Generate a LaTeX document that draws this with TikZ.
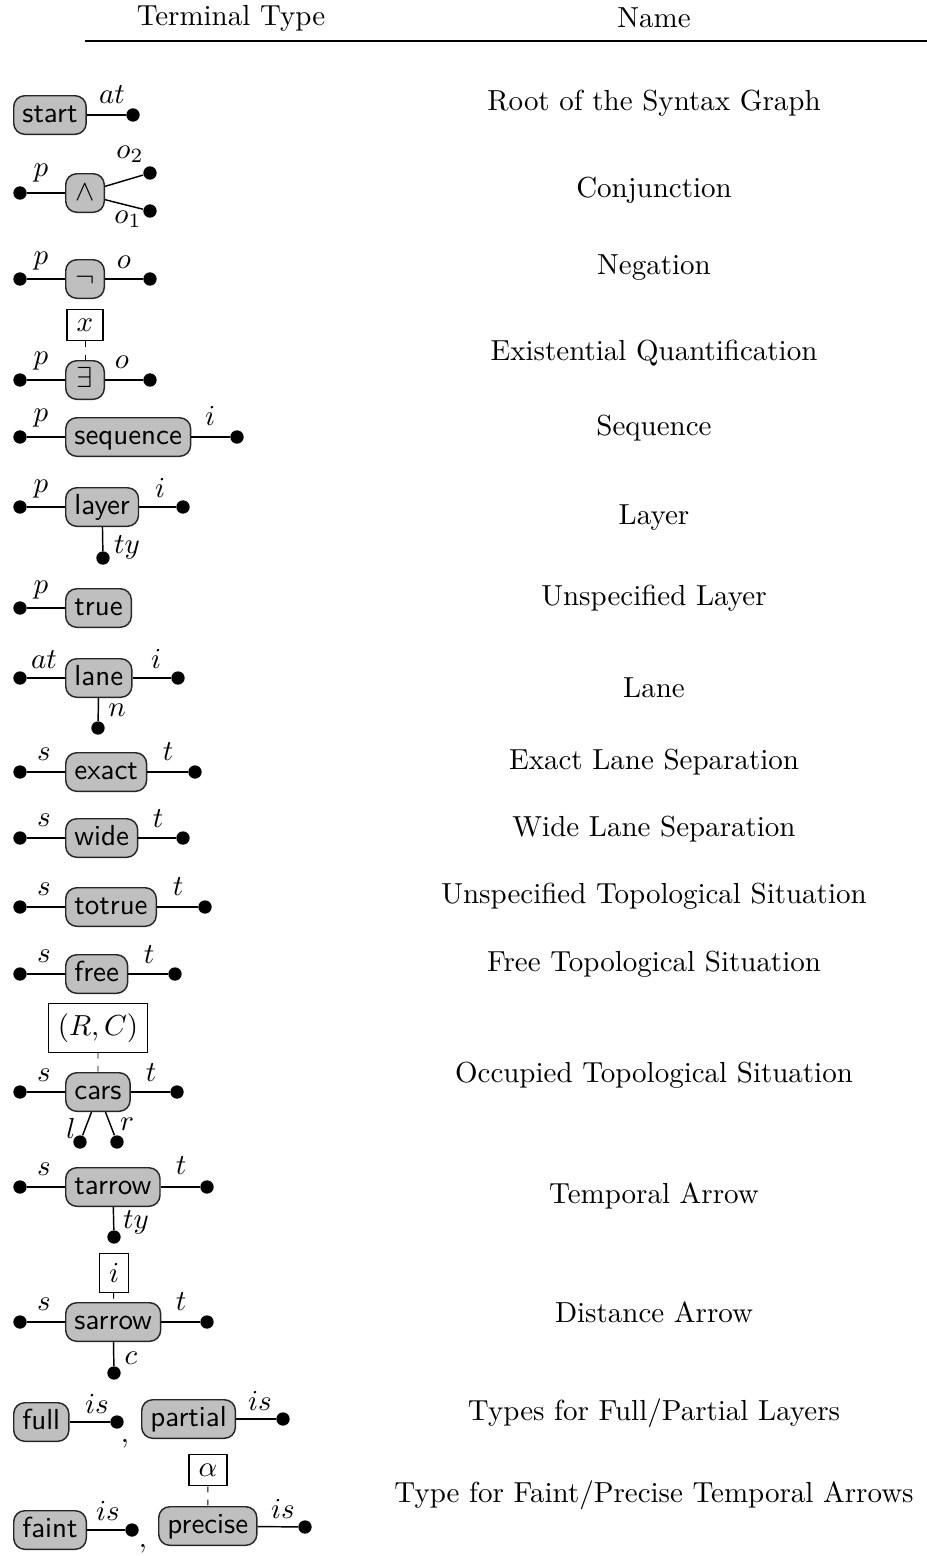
\documentclass[tikz,border=0pt]{standalone}
\usetikzlibrary{calc}
\begin{document}
\begin{tikzpicture}[x=0.345pt,y=-0.345pt,
 term/.style={draw=black!85, fill=black!25, rounded corners=3.8pt, font=\sffamily, minimum height=13.3pt, minimum width=13.3pt, inner xsep=3pt, inner ysep=0pt, text height=7pt, text depth=2pt, line width=0.5pt},
 dot/.style={circle, fill=black, inner sep=0pt, minimum size=4.6pt},
 var/.style={draw, fill=white, inner sep=3.33pt, line width=0.4pt},
 lbl/.style={inner sep=0pt},
 wire/.style={line width=0.5pt},
 link/.style={line width=0.3pt, dash pattern=on 2pt off 2.5pt},
 rowname/.style={inner sep=0pt}
]
\useasboundingbox (0,0) rectangle (927,1556);
% header
\node[rowname] (h1) at (231,18) {Terminal Type};
\node[rowname] (h2) at (654,18) {Name};
\draw[line width=0.5pt] (85,41) -- (927,41);

% row 1 start
\node[term, anchor=west] (start) at (13,115) {start};
\node[dot] (start-r) at (133,115) {};
\draw[wire] (start) -- (start-r);
\node[lbl] (start-l) at (112,95) {$at$};
\node[rowname] (n1) at (654,103) {Root of the Syntax Graph};

% row 2 conjunction
\node[dot] (and-p) at (20,193) {};
\node[term] (and) at (85,193) {$\wedge$};
\node[dot] (and-o2) at (150,173) {};
\node[dot] (and-o1) at (150,211) {};
\draw[wire] (and-p) -- (and);
\draw[wire] ([yshift=2.3pt]and.east) -- (and-o2);
\draw[wire] ([yshift=-2.3pt]and.east) -- (and-o1);
\node[lbl] (and-lp) at (41,173) {$p$};
\node[lbl] (and-lo2) at (130,154) {$o_2$};
\node[lbl] (and-lo1) at (128,219) {$o_1$};
\node[rowname] (n2) at (654,190) {Conjunction};

% row 3 negation
\node[dot] (neg-p) at (20,279) {};
\node[term] (neg) at (85,279) {$\neg$};
\node[dot] (neg-o) at (150,279) {};
\draw[wire] (neg-p) -- (neg) -- (neg-o);
\node[lbl] (neg-lp) at (41,261) {$p$};
\node[lbl] (neg-lo) at (124,262) {$o$};
\node[rowname] (n3) at (654,268) {Negation};

% row 4 exists
\node[var] (ex-x) at (85,325) {$x$};
\node[dot] (ex-p) at (20,380) {};
\node[term] (ex) at (85,380) {$\exists$};
\node[dot] (ex-o) at (150,380) {};
\draw[wire] (ex-p) -- (ex) -- (ex-o);
\draw[link] (ex-x) -- (ex);
\node[lbl] (ex-lp) at (41,361) {$p$};
\node[lbl] (ex-lo) at (122,362) {$o$};
\node[rowname] (n4) at (654,353) {Existential Quantification};

% row 5 sequence
\node[dot] (seq-p) at (20,437) {};
\node[term, anchor=west] (seq) at (65,437) {sequence};
\node[dot] (seq-i) at (237,437) {};
\draw[wire] (seq-p) -- (seq) -- (seq-i);
\node[lbl] (seq-lp) at (41,418) {$p$};
\node[lbl] (seq-li) at (210,416) {$i$};
\node[rowname] (n5) at (654,428) {Sequence};

% row 6 layer
\node[dot] (lay-p) at (20,507) {};
\node[term, anchor=west] (lay) at (65,507) {layer};
\node[dot] (lay-i) at (183,507) {};
\node[dot] (lay-t) at (103,558) {};
\draw[wire] (lay-p) -- (lay) -- (lay-i);
\draw[wire] (lay) -- (lay-t);
\node[lbl] (lay-lp) at (41,489) {$p$};
\node[lbl] (lay-li) at (160,488) {$i$};
\node[lbl] (lay-lt) at (127,547) {$ty$};
\node[rowname] (n6) at (654,518) {Layer};

% row 7 true
\node[dot] (tr-p) at (20,608) {};
\node[term, anchor=west] (tr) at (65,608) {true};
\draw[wire] (tr-p) -- (tr);
\node[lbl] (tr-lp) at (41,590) {$p$};
\node[rowname] (n7) at (654,598) {Unspecified Layer};

% row 8 lane
\node[dot] (lane-a) at (20,678) {};
\node[term, anchor=west] (lane) at (65,678) {lane};
\node[dot] (lane-i) at (178,678) {};
\node[dot] (lane-n) at (98,728) {};
\draw[wire] (lane-a) -- (lane) -- (lane-i);
\draw[wire] (lane) -- (lane-n);
\node[lbl] (lane-la) at (44,660) {$at$};
\node[lbl] (lane-li) at (156,659) {$i$};
\node[lbl] (lane-ln) at (117,710) {$n$};
\node[rowname] (n8) at (654,688) {Lane};

% row 9 exact
\node[dot] (exa-s) at (20,772) {};
\node[term, anchor=west] (exa) at (65,772) {exact};
\node[dot] (exa-t) at (195,772) {};
\draw[wire] (exa-s) -- (exa) -- (exa-t);
\node[lbl] (exa-ls) at (44,754) {$s$};
\node[lbl] (exa-lt) at (168,752) {$t$};
\node[rowname] (n9) at (654,762) {Exact Lane Separation};

% row 10 wide
\node[dot] (wid-s) at (20,838) {};
\node[term, anchor=west] (wid) at (65,838) {wide};
\node[dot] (wid-t) at (183,838) {};
\draw[wire] (wid-s) -- (wid) -- (wid-t);
\node[lbl] (wid-ls) at (44,820) {$s$};
\node[lbl] (wid-lt) at (158,819) {$t$};
\node[rowname] (n10) at (654,829) {Wide Lane Separation};

% row 11 totrue
\node[dot] (tot-s) at (20,907) {};
\node[term, anchor=west] (tot) at (65,907) {totrue};
\node[dot] (tot-t) at (205,907) {};
\draw[wire] (tot-s) -- (tot) -- (tot-t);
\node[lbl] (tot-ls) at (44,889) {$s$};
\node[lbl] (tot-lt) at (178,887) {$t$};
\node[rowname] (n11) at (654,896) {Unspecified Topological Situation};

% row 12 free
\node[dot] (fre-s) at (20,974) {};
\node[term, anchor=west] (fre) at (65,974) {free};
\node[dot] (fre-t) at (175,974) {};
\draw[wire] (fre-s) -- (fre) -- (fre-t);
\node[lbl] (fre-ls) at (44,956) {$s$};
\node[lbl] (fre-lt) at (149,955) {$t$};
\node[rowname] (n12) at (654,964) {Free Topological Situation};

% row 13 cars
\node[var] (car-v) at (98,1028) {$(R,C)$};
\node[dot] (car-s) at (20,1092) {};
\node[term, anchor=west] (car) at (65,1092) {cars};
\node[dot] (car-t) at (177,1092) {};
\node[dot] (car-l) at (80,1142) {};
\node[dot] (car-r) at (117,1142) {};
\draw[wire] (car-s) -- (car) -- (car-t);
\draw[link] (car-v) -- (car);
\draw[wire] ([xshift=-2.2pt]car.south) -- (car-l);
\draw[wire] ([xshift=2.6pt]car.south) -- (car-r);
\node[lbl] (car-ls) at (44,1075) {$s$};
\node[lbl] (car-lt) at (151,1073) {$t$};
\node[lbl] (car-ll) at (71,1128) {$l$};
\node[lbl] (car-lr) at (127,1124) {$r$};
\node[rowname] (n13) at (654,1075) {Occupied Topological Situation};

% row 14 tarrow
\node[dot] (ta-s) at (20,1187) {};
\node[term, anchor=west] (ta) at (65,1187) {tarrow};
\node[dot] (ta-t) at (207,1187) {};
\node[dot] (ta-y) at (114,1237) {};
\draw[wire] (ta-s) -- (ta) -- (ta-t);
\draw[wire] (ta) -- (ta-y);
\node[lbl] (ta-ls) at (44,1169) {$s$};
\node[lbl] (ta-lt) at (181,1166) {$t$};
\node[lbl] (ta-ly) at (136,1222) {$ty$};
\node[rowname] (n14) at (654,1196) {Temporal Arrow};

% row 15 sarrow
\node[var] (sa-v) at (114,1273) {$i$};
\node[dot] (sa-s) at (20,1322) {};
\node[term, anchor=west] (sa) at (65,1322) {sarrow};
\node[dot] (sa-t) at (207,1322) {};
\node[dot] (sa-c) at (114,1373) {};
\draw[wire] (sa-s) -- (sa) -- (sa-t);
\draw[wire] (sa) -- (sa-c);
\draw[link] (sa-v) -- (sa);
\node[lbl] (sa-ls) at (44,1304) {$s$};
\node[lbl] (sa-lt) at (181,1302) {$t$};
\node[lbl] (sa-lc) at (131,1358) {$c$};
\node[rowname] (n15) at (654,1312) {Distance Arrow};

% row 16 full / partial
\node[term, anchor=west] (ful) at (13,1422) {full};
\node[dot] (ful-d) at (117,1422) {};
\draw[wire] (ful) -- (ful-d);
\node[lbl] (ful-l) at (97,1404) {$is$};
\node[lbl] (com1) at (125,1444) {$,$};
\node[term, anchor=west] (par) at (141,1419) {partial};
\node[dot] (par-d) at (283,1419) {};
\draw[wire] (par) -- (par-d);
\node[lbl] (par-l) at (260,1401) {$is$};
\node[rowname] (n16) at (654,1413) {Types for Full/Partial Layers};

% row 17 faint / precise
\node[term, anchor=west] (fai) at (13,1530) {faint};
\node[dot] (fai-d) at (132,1530) {};
\draw[wire] (fai) -- (fai-d);
\node[lbl] (fai-l) at (108,1511) {$is$};
\node[lbl] (com2) at (143,1549) {$,$};
\node[var] (pre-v) at (208,1470) {$\alpha$};
\node[term, anchor=west] (pre) at (158,1526) {precise};
\node[dot] (pre-d) at (305,1527) {};
\draw[wire] (pre) -- (pre-d);
\draw[link] (pre-v) -- (pre);
\node[lbl] (pre-l) at (283,1509) {$is$};
\node[rowname] (n17) at (654,1495) {Type for Faint/Precise Temporal Arrows};
\end{tikzpicture}
\end{document}
